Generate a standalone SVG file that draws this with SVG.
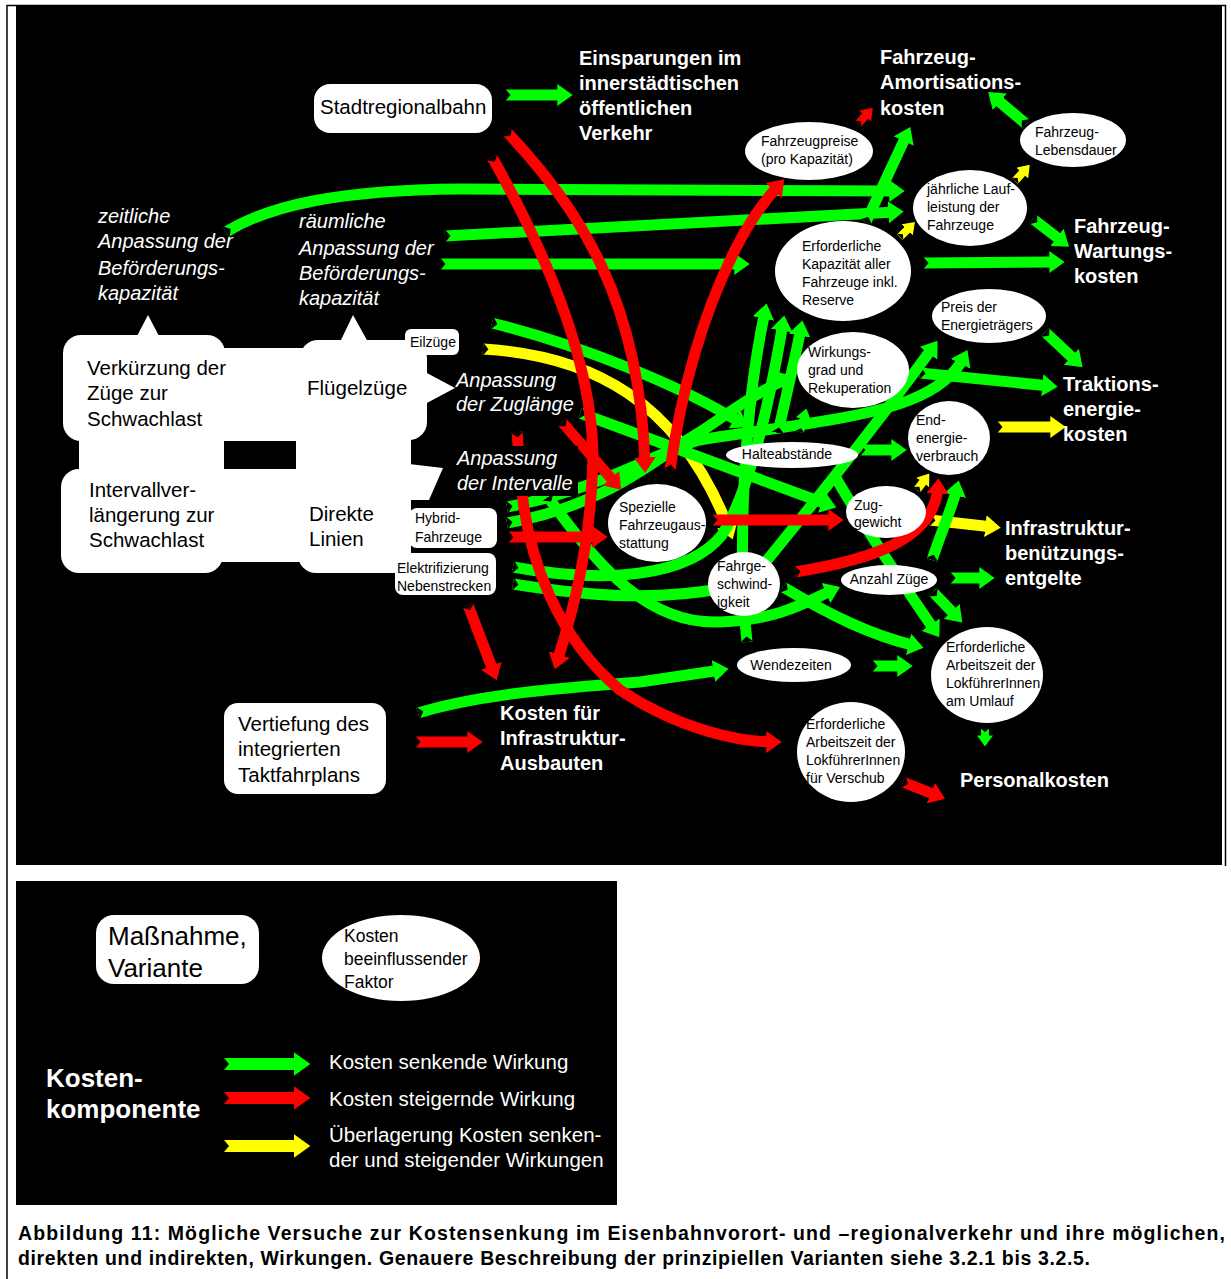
<svg xmlns="http://www.w3.org/2000/svg" width="1231" height="1279" viewBox="0 0 1231 1279">
<defs>
<marker id="hg" viewBox="0 0 14 20" refX="7" refY="10" markerWidth="1.4" markerHeight="2" orient="auto"><path d="M0,0 L14,10 L0,20 z" fill="#00ff00"/></marker>
<marker id="hr" viewBox="0 0 14 20" refX="7" refY="10" markerWidth="1.4" markerHeight="2" orient="auto"><path d="M0,0 L14,10 L0,20 z" fill="#ff0000"/></marker>
<marker id="hy" viewBox="0 0 14 20" refX="7" refY="10" markerWidth="1.4" markerHeight="2" orient="auto"><path d="M0,0 L14,10 L0,20 z" fill="#ffff00"/></marker>
<marker id="n" viewBox="0 0 10 12" refX="0" refY="6" markerWidth="1" markerHeight="1.2" orient="auto"><path d="M0,0 L5,6 L0,12 z" fill="#000"/></marker>
</defs>
<style>
.c path{fill:none;stroke-width:11;marker-start:url(#n)}
.g{stroke:#00ff00;marker-end:url(#hg)}
.r{stroke:#ff0000;marker-end:url(#hr)}
.y{stroke:#ffff00;marker-end:url(#hy)}
.c path.s{stroke-width:8}
.c path.nh{marker-end:none}
text{font-family:"Liberation Sans",Arial,sans-serif}
.f{fill:#fff}
.lab{fill:#000;font-size:20.5px}
.sm{fill:#000;font-size:14px}
.cost{fill:#fff;font-weight:bold;font-size:20px}
.it{fill:#fff;font-style:italic;font-size:20px}
.cap{fill:#000;font-weight:bold;font-size:19.5px}
</style>
<rect width="1231" height="1279" fill="#fff"/>
<rect x="16" y="5" width="1206" height="860" fill="#000"/>
<line x1="7" y1="5" x2="7" y2="1279" stroke="#000" stroke-width="1.5"/>
<line x1="7" y1="5.5" x2="1226" y2="5.5" stroke="#000" stroke-width="1.5"/>
<line x1="1225.5" y1="5" x2="1225.5" y2="866" stroke="#000" stroke-width="1.5"/>
<rect x="16" y="881" width="601" height="324" fill="#000"/>

<g id="connectors" class="c">
<!-- yellow -->
<path class="y" d="M483,349 C590,355 680,400 730,532"/>
<path class="y s" d="M900,237 L911,226"/>
<path class="y s" d="M1015,181 L1026,169"/>
<path class="y" d="M997,427 L1058,427"/>
<path class="y" d="M930,520 L993,527"/>
<path class="y s" d="M917,490 L926,478"/>
<!-- green -->
<path class="g" d="M505,95 L565,95"/>
<path class="g" d="M226,232 C270,205 340,190 460,189 L897,191"/>
<path class="g" d="M445,236 L896,212"/>
<path class="g" d="M440,264 L742,264"/>
<path class="g" d="M866,222 L907,134"/>
<path class="g" d="M923,263 L1057,262"/>
<path class="g" d="M1033,219 L1063,242"/>
<path class="g" d="M1026,124 L994,97"/>
<path class="g" d="M1045,332 L1077,362"/>
<path class="g" d="M920,373 L1050,386"/>
<path class="g" d="M950,578 L987,578"/>
<path class="g" d="M833,473 C860,520 900,580 935,631"/>
<path class="g" d="M933,592 L957,617"/>
<path class="g" d="M872,666 L905,666"/>
<path class="g s" d="M985,728 L985,741"/>
<path class="g" d="M418,713 C480,694 560,688 640,682 L721,670"/>
<path class="g" d="M492,323 C580,345 680,385 741,423"/>
<path class="g" d="M580,413 C680,450 760,480 829,505"/>
<path class="g" d="M860,450 L899,450"/>
<path class="g" d="M932,560 C942,530 953,505 957,488"/>
<path class="g" d="M507,507 C600,490 660,450 700,440 C770,428 860,420 910,400 C935,390 955,375 964,357"/>
<path class="g" d="M507,523 C610,505 660,455 700,432 C730,412 760,390 787,379"/>
<path class="g" d="M513,567 C610,585 690,575 722,535 C750,490 770,400 783,323"/>
<path class="g nh" d="M513,584 C600,598 660,600 725,588"/>
<path class="g" d="M755,575 C800,520 880,420 933,347"/>
<path class="g" d="M548,497 C600,570 650,625 720,622 C780,620 810,600 833,590"/>
<path class="g" d="M783,587 C830,615 870,635 916,646"/>
<path class="g" d="M747,642 C738,560 742,420 765,311"/>
<path class="g" d="M778,433 C785,400 795,360 801,328"/>
<path class="g s" d="M800,432 L805,414"/>
<!-- red -->
<path class="r" d="M492,157 C550,260 600,380 592,480 C588,560 570,620 557,662"/>
<path class="r" d="M507,132 C580,210 640,300 645,465"/>
<path class="r" d="M670,470 C680,400 700,320 735,250 C750,220 765,200 779,185"/>
<path class="r" d="M517,432 L520,470 C525,560 560,640 620,690 C680,730 740,742 774,742"/>
<path class="r" d="M508,537 L600,537"/>
<path class="r" d="M712,520 L836,520"/>
<path class="r" d="M795,572 C870,560 935,540 938,486"/>
<path class="r" d="M468,605 L494,673"/>
<path class="r" d="M415,742 L475,742"/>
<path class="r" d="M903,782 L938,796"/>
<path class="r s" d="M858,124 L869,112"/>
<path class="r" d="M562,422 L616,484"/>
</g>

<g id="label-zeitlich"><text class="it" x="98" y="223">zeitliche</text><text class="it" x="98" y="248">Anpassung der</text><text class="it" x="98" y="275">Beförderungs-</text><text class="it" x="98" y="300">kapazität</text></g>
<g id="label-raeumlich"><text class="it" x="299" y="228">räumliche</text><text class="it" x="299" y="255">Anpassung der</text><text class="it" x="299" y="280">Beförderungs-</text><text class="it" x="299" y="305">kapazität</text></g>
<g id="label-zuglaenge"><text class="it" x="456" y="387">Anpassung</text><text class="it" x="456" y="411">der Zuglänge</text></g>
<g id="label-intervalle"><rect x="454" y="446" width="124" height="50" fill="#000"/><text class="it" x="457" y="465">Anpassung</text><text class="it" x="457" y="490">der Intervalle</text></g>

<g id="node-cloud" fill="#fff">
<rect x="63" y="335" width="162" height="106" rx="18"/>
<rect x="205" y="348" width="110" height="95"/>
<rect x="300" y="340" width="127" height="100" rx="18"/>
<rect x="79" y="425" width="332" height="55"/>
<rect x="61" y="469" width="162" height="104" rx="18"/>
<rect x="205" y="465" width="110" height="97"/>
<rect x="298" y="469" width="113" height="104" rx="18"/>
<polygon points="136,338 148,315 160,338"/>
<polygon points="340,342 353,315 368,342"/>
<polygon points="425,372 455,388 425,404"/>
<polygon points="409,464 443,468 429,500 409,500"/>
<rect x="224" y="441" width="72" height="28" fill="#000"/>
<text class="lab" x="87" y="375">Verkürzung der</text><text class="lab" x="87" y="400">Züge zur</text><text class="lab" x="87" y="426">Schwachlast</text>
<text class="lab" x="307" y="395">Flügelzüge</text>
<text class="lab" x="89" y="497">Intervallver-</text><text class="lab" x="89" y="522">längerung zur</text><text class="lab" x="89" y="547">Schwachlast</text>
<text class="lab" x="309" y="521">Direkte</text><text class="lab" x="309" y="546">Linien</text>
</g>

<g id="node-stadtregionalbahn"><rect class="f" x="314" y="84" width="178" height="49" rx="16"/><text class="lab" x="320" y="114">Stadtregionalbahn</text></g>
<g id="node-eilzuege"><rect class="f" x="405" y="329" width="54" height="26" rx="6"/><text class="sm" x="410" y="347">Eilzüge</text></g>
<g id="node-hybrid"><rect class="f" x="409" y="508" width="88" height="40" rx="8"/><text class="sm" x="415" y="523">Hybrid-</text><text class="sm" x="415" y="542">Fahrzeuge</text></g>
<g id="node-elektrifizierung"><rect class="f" x="395" y="553" width="101" height="42" rx="8"/><text class="sm" x="397" y="573">Elektrifizierung</text><text class="sm" x="397" y="591">Nebenstrecken</text></g>
<g id="node-taktfahrplan"><rect class="f" x="224" y="703" width="162" height="91" rx="14"/><text class="lab" x="238" y="731">Vertiefung des</text><text class="lab" x="238" y="756">integrierten</text><text class="lab" x="238" y="782">Taktfahrplans</text></g>

<g id="node-fahrzeugpreise"><ellipse class="f" cx="809" cy="151" rx="64" ry="29"/><text class="sm" x="761" y="146">Fahrzeugpreise</text><text class="sm" x="761" y="164">(pro Kapazität)</text></g>
<g id="node-lebensdauer"><ellipse class="f" cx="1073" cy="140" rx="53" ry="27"/><text class="sm" x="1035" y="137">Fahrzeug-</text><text class="sm" x="1035" y="155">Lebensdauer</text></g>
<g id="node-laufleistung"><ellipse class="f" cx="970" cy="208" rx="57" ry="38"/><text class="sm" x="927" y="194">jährliche Lauf-</text><text class="sm" x="927" y="212">leistung der</text><text class="sm" x="927" y="230">Fahrzeuge</text></g>
<g id="node-kapazitaet"><ellipse class="f" cx="843" cy="271" rx="68" ry="50"/><text class="sm" x="802" y="251">Erforderliche</text><text class="sm" x="802" y="269">Kapazität aller</text><text class="sm" x="802" y="287">Fahrzeuge inkl.</text><text class="sm" x="802" y="305">Reserve</text></g>
<g id="node-energiepreis"><ellipse class="f" cx="989" cy="316" rx="57" ry="27"/><text class="sm" x="941" y="312">Preis der</text><text class="sm" x="941" y="330">Energieträgers</text></g>
<g id="node-wirkungsgrad"><ellipse class="f" cx="853" cy="370" rx="56" ry="38"/><text class="sm" x="808" y="357">Wirkungs-</text><text class="sm" x="808" y="375">grad und</text><text class="sm" x="808" y="393">Rekuperation</text></g>
<g id="node-endenergie"><ellipse class="f" cx="949" cy="438" rx="41" ry="37"/><text class="sm" x="916" y="425">End-</text><text class="sm" x="916" y="443">energie-</text><text class="sm" x="916" y="461">verbrauch</text></g>
<g id="node-halteabstaende"><ellipse class="f" cx="792" cy="455" rx="66" ry="13"/><text class="sm" x="787" y="459" text-anchor="middle">Halteabstände</text></g>
<g id="node-zuggewicht"><ellipse class="f" cx="886" cy="512" rx="40" ry="26"/><text class="sm" x="854" y="510">Zug-</text><text class="sm" x="854" y="527">gewicht</text></g>
<g id="node-ausstattung"><ellipse class="f" cx="657" cy="523" rx="49" ry="39"/><text class="sm" x="619" y="512">Spezielle</text><text class="sm" x="619" y="530">Fahrzeugaus-</text><text class="sm" x="619" y="548">stattung</text></g>
<g id="node-geschwindigkeit"><ellipse class="f" cx="744" cy="584" rx="36" ry="32"/><text class="sm" x="717" y="571">Fahrge-</text><text class="sm" x="717" y="589">schwind-</text><text class="sm" x="717" y="607">igkeit</text></g>
<g id="node-anzahl"><ellipse class="f" cx="889" cy="580" rx="48" ry="15"/><text class="sm" x="889" y="584" text-anchor="middle">Anzahl Züge</text></g>
<g id="node-wendezeiten"><ellipse class="f" cx="794" cy="665" rx="57" ry="17"/><text class="sm" x="791" y="670" text-anchor="middle">Wendezeiten</text></g>
<g id="node-umlauf"><ellipse class="f" cx="987" cy="675" rx="56" ry="48"/><text class="sm" x="946" y="652">Erforderliche</text><text class="sm" x="946" y="670">Arbeitszeit der</text><text class="sm" x="946" y="688">LokführerInnen</text><text class="sm" x="946" y="706">am Umlauf</text></g>
<g id="node-verschub"><ellipse class="f" cx="851" cy="752" rx="54" ry="50"/><text class="sm" x="806" y="729">Erforderliche</text><text class="sm" x="806" y="747">Arbeitszeit der</text><text class="sm" x="806" y="765">LokführerInnen</text><text class="sm" x="806" y="783">für Verschub</text></g>

<g id="cost-einsparungen"><text class="cost" x="579" y="65">Einsparungen im</text><text class="cost" x="579" y="90">innerstädtischen</text><text class="cost" x="579" y="115">öffentlichen</text><text class="cost" x="579" y="140">Verkehr</text></g>
<g id="cost-amortisation"><text class="cost" x="880" y="64">Fahrzeug-</text><text class="cost" x="880" y="89">Amortisations-</text><text class="cost" x="880" y="115">kosten</text></g>
<g id="cost-wartung"><text class="cost" x="1074" y="233">Fahrzeug-</text><text class="cost" x="1074" y="258">Wartungs-</text><text class="cost" x="1074" y="283">kosten</text></g>
<g id="cost-traktion"><text class="cost" x="1063" y="391">Traktions-</text><text class="cost" x="1063" y="416">energie-</text><text class="cost" x="1063" y="441">kosten</text></g>
<g id="cost-entgelte"><text class="cost" x="1005" y="535">Infrastruktur-</text><text class="cost" x="1005" y="560">benützungs-</text><text class="cost" x="1005" y="585">entgelte</text></g>
<g id="cost-personal"><text class="cost" x="960" y="787">Personalkosten</text></g>
<g id="cost-infrastruktur"><text class="cost" x="500" y="720">Kosten für</text><text class="cost" x="500" y="745">Infrastruktur-</text><text class="cost" x="500" y="770">Ausbauten</text></g>

<g id="legend">
<rect class="f" x="96" y="915" width="163" height="69" rx="18"/>
<text x="108" y="945" style="font-size:26px;fill:#000">Maßnahme,</text>
<text x="108" y="977" style="font-size:26px;fill:#000">Variante</text>
<ellipse class="f" cx="401" cy="958" rx="79" ry="43"/>
<text x="344" y="942" style="font-size:17.5px;fill:#000">Kosten</text>
<text x="344" y="965" style="font-size:17.5px;fill:#000">beeinflussender</text>
<text x="344" y="988" style="font-size:17.5px;fill:#000">Faktor</text>
<text x="46" y="1087" style="font-size:26px;font-weight:bold;fill:#fff">Kosten-</text>
<text x="46" y="1118" style="font-size:26px;font-weight:bold;fill:#fff">komponente</text>
<g class="c">
<path class="g" style="stroke-width:12" d="M223,1064 L302,1064"/>
<path class="r" style="stroke-width:12" d="M223,1098 L302,1098"/>
<path class="y" style="stroke-width:12" d="M223,1146 L302,1146"/>
</g>
<text x="329" y="1069" style="font-size:20.5px;fill:#fff">Kosten senkende Wirkung</text>
<text x="329" y="1106" style="font-size:20.5px;fill:#fff">Kosten steigernde Wirkung</text>
<text x="329" y="1142" style="font-size:20.5px;fill:#fff">Überlagerung Kosten senken-</text>
<text x="329" y="1167" style="font-size:20.5px;fill:#fff">der und steigender Wirkungen</text>
</g>

<g id="caption">
<text class="cap" x="18" y="1240" textLength="1207" lengthAdjust="spacing">Abbildung 11: Mögliche Versuche zur Kostensenkung im Eisenbahnvorort- und –regionalverkehr und ihre möglichen,</text>
<text class="cap" x="18" y="1265" textLength="1072" lengthAdjust="spacing">direkten und indirekten, Wirkungen. Genauere Beschreibung der prinzipiellen Varianten siehe 3.2.1 bis 3.2.5.</text>
</g>
</svg>
